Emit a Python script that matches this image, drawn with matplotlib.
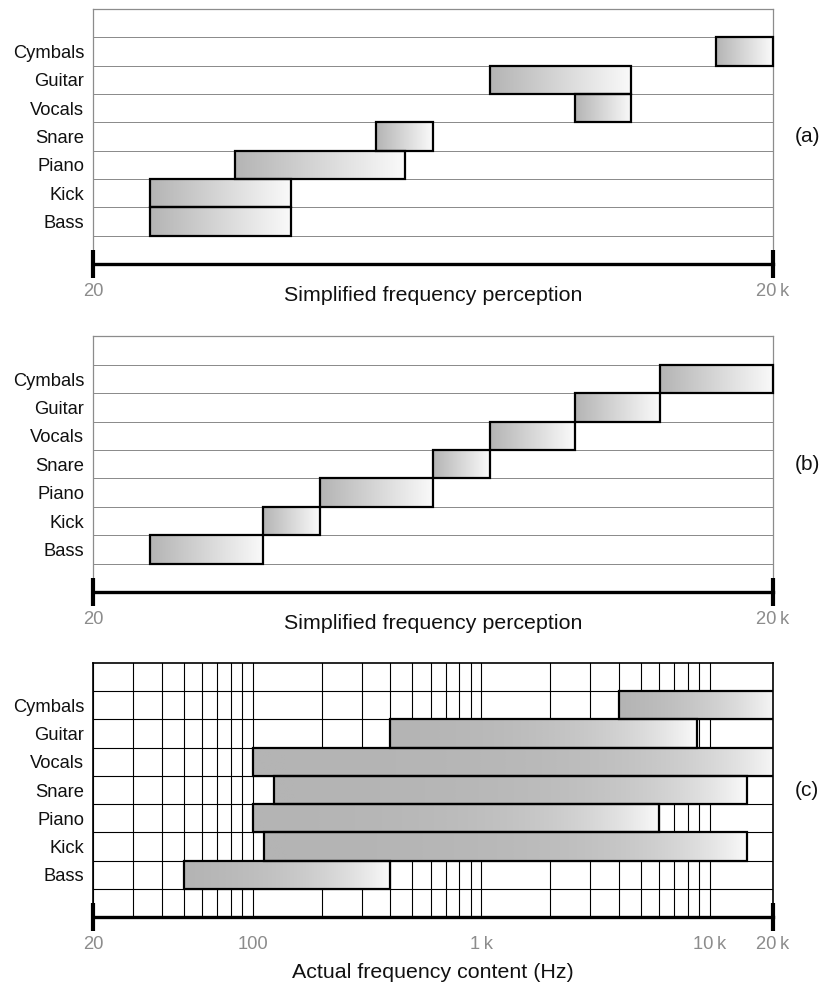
import numpy as np
import matplotlib
matplotlib.use("Agg")
from matplotlib import pyplot as plt
from matplotlib.patches import Rectangle
from matplotlib.colors import LinearSegmentedColormap
from matplotlib.ticker import LogLocator, NullFormatter

plt.rcParams['font.family'] = ['Liberation Sans', 'DejaVu Sans']
plt.rcParams['font.size'] = 13.2

# instruments, bottom row to top row
instruments = ['Bass', 'Kick', 'Piano', 'Snare', 'Vocals', 'Guitar', 'Cymbals']

# (a) and (b): position on a simplified perception scale, 0 = 20 Hz ... 12 = 20 kHz
a_low = [1, 1, 2.5, 5, 8.5, 7, 11]
a_high = [3.5, 3.5, 5.5, 6, 9.5, 9.5, 12]
b_low = [1, 3, 4, 6, 7, 8.5, 10]
b_high = [3, 4, 6, 7, 8.5, 10, 12]

# (c): actual frequency content in Hz
c_low = [50, 112, 100, 124, 100, 400, 4000]
c_high = [400, 14600, 6000, 14600, 20000, 8800, 20000]

perc_ticks = [0, 12]
perc_labels = ['20', '20\u2009k']
hz_ticks = [20, 100, 1000, 10000, 18900]
hz_labels = ['20', '100', '1\u2009k', '10\u2009k', '20\u2009k']

gray = '#8c8c8c'
bar_cmap = LinearSegmentedColormap.from_list('bar', ['#b4b4b4', '#fafafa'])
grad = np.linspace(0, 1, 256).reshape(1, -1)
n_rows = len(instruments) + 2


def draw_bars(ax, lows, highs, clip):
    for i, (lo, hi) in enumerate(zip(lows, highs)):
        y0 = i + 1
        ax.imshow(grad, cmap=bar_cmap, extent=(lo, hi, y0, y0 + 1),
                  aspect='auto', interpolation='bilinear', zorder=2)
        ax.add_patch(Rectangle((lo, y0), hi - lo, 1, fill=False, ec='black',
                               lw=1.6, zorder=3, clip_on=clip))


def setup(ax, frame_color, frame_lw, xlim, ticks, labels, xlabel, xlabel_off, tag):
    ax.set_xlim(*xlim)
    ax.set_ylim(0, n_rows)
    ax.set_yticks(np.arange(len(instruments)) + 1.5)
    ax.set_yticklabels(instruments, color='#111111')
    ax.set_yticks(np.arange(1, n_rows), minor=True)
    ax.tick_params(axis='y', which='both', length=0, pad=6.5)
    ax.yaxis.grid(True, which='minor', color=frame_color, lw=frame_lw * 0.8)
    ax.set_xticks(ticks)
    ax.set_xticklabels(labels, color=gray)
    ax.tick_params(axis='x', which='both', length=0, pad=14)
    for side in ['top', 'left', 'right']:
        ax.spines[side].set_color(frame_color)
        ax.spines[side].set_linewidth(frame_lw)
    ax.spines['bottom'].set_linewidth(2.4)
    ax.spines['bottom'].set_color('black')
    for x in xlim:
        ax.axvline(x, ymin=-0.055, ymax=0.055, color='black', lw=3,
                   clip_on=False, solid_capstyle='butt', zorder=5)
    ax.annotate(xlabel, xy=(0.5, 0), xycoords='axes fraction',
                xytext=(0, xlabel_off), textcoords='offset points',
                ha='center', va='top', color='#111111', fontsize=15.4)
    ax.text(1.032, 0.5, tag, transform=ax.transAxes, ha='left', va='center',
            color='#111111', fontsize=15)
    ax.set_axisbelow(True)


fig = plt.figure(figsize=(8.24, 9.85), dpi=100)
ax_a = fig.add_axes([0.1129, 0.7320, 0.8252, 0.2589])
ax_b = fig.add_axes([0.1129, 0.3990, 0.8252, 0.2594])
ax_c = fig.add_axes([0.1129, 0.0690, 0.8252, 0.2579])

draw_bars(ax_a, a_low, a_high, False)
setup(ax_a, gray, 0.9, (0, 12), perc_ticks, perc_labels,
      'Simplified frequency perception', -15.5, '(a)')

draw_bars(ax_b, b_low, b_high, False)
setup(ax_b, gray, 0.9, (0, 12), perc_ticks, perc_labels,
      'Simplified frequency perception', -15.5, '(b)')

ax_c.set_xscale('log')
draw_bars(ax_c, c_low, c_high, True)
setup(ax_c, 'black', 1.2, (20, 18900), hz_ticks, hz_labels,
      'Actual frequency content (Hz)', -33, '(c)')
ax_c.xaxis.set_minor_locator(LogLocator(base=10, subs=np.arange(2, 10)))
ax_c.xaxis.set_minor_formatter(NullFormatter())
ax_c.xaxis.grid(True, which='both', color='black', lw=0.8)
ax_c.yaxis.grid(True, which='minor', color='black', lw=0.8)

fig.savefig('out.png', dpi=100)
